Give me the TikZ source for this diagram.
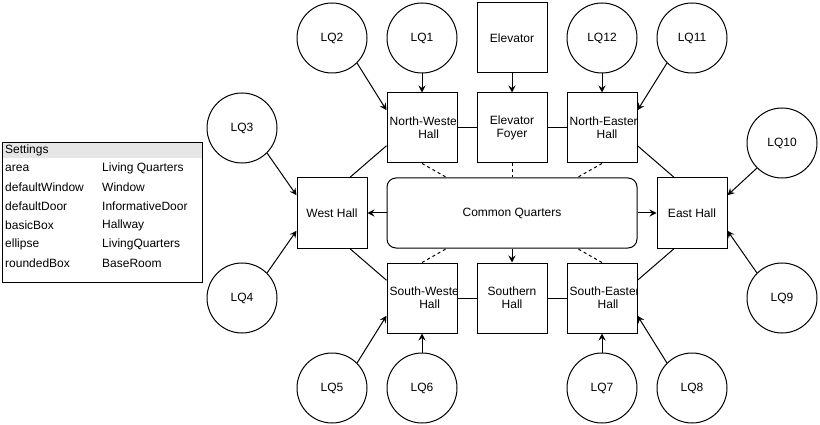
\documentclass[tikz,border=0pt]{standalone}
\usepackage{fontspec}
\setmainfont{Liberation Sans}
\usetikzlibrary{arrows.meta,calc}
\definecolor{headgray}{RGB}{230,230,230}
\begin{document}
\begin{tikzpicture}[x=1pt,y=-1pt,
  font=\fontsize{12}{12.8}\selectfont,
  lq/.style={circle,draw,line width=1pt,minimum size=70pt,inner sep=0pt},
  hall/.style={rectangle,draw,line width=1pt,minimum size=70pt,inner sep=0pt,align=center},
  conn/.style={line width=1pt},
  arr/.style={conn,-{Stealth[length=7pt,width=7pt,inset=2.5pt]}},
  dsh/.style={conn,dash pattern=on 3pt off 3pt},
  lbl/.style={inner sep=0pt,anchor=west},
  cliptext/.style={inner sep=0pt,anchor=west,align=center},
]
\useasboundingbox (0,0) rectangle (820,425);

% Settings table
\fill[headgray] (2,142) rectangle (202,158);
\node (settings) [draw,line width=1pt,minimum width=200pt,minimum height=140pt,anchor=north west,inner sep=0pt] at (2,142) {};
\node[lbl] (sh) at (5,150) {Settings};
\node[lbl] (k1) at (5,168.5) {area};          \node[lbl] (v1) at (102,168.5) {Living Quarters};
\node[lbl] (k2) at (5,187.5) {defaultWindow}; \node[lbl] (v2) at (102,187.5) {Window};
\node[lbl] (k3) at (5,206.5) {defaultDoor};   \node[lbl] (v3) at (102,206.5) {InformativeDoor};
\node[lbl] (k4) at (5,225.5) {basicBox};      \node[lbl] (v4) at (102,225.5) {Hallway};
\node[lbl] (k5) at (5,244.5) {ellipse};       \node[lbl] (v5) at (102,244.5) {LivingQuarters};
\node[lbl] (k6) at (5,263.5) {roundedBox};    \node[lbl] (v6) at (102,263.5) {BaseRoom};

% Living quarters
\node[lq] (lq1) at (422,38) {LQ1};
\node[lq] (lq2) at (332,38) {LQ2};
\node[lq] (lq3) at (242,128) {LQ3};
\node[lq] (lq4) at (242,298) {LQ4};
\node[lq] (lq5) at (332,388) {LQ5};
\node[lq] (lq6) at (422,388) {LQ6};
\node[lq] (lq7) at (602,388) {LQ7};
\node[lq] (lq8) at (692,388) {LQ8};
\node[lq] (lq9) at (782,298) {LQ9};
\node[lq] (lq10) at (782,143) {LQ10};
\node[lq] (lq11) at (692,38) {LQ11};
\node[lq] (lq12) at (602,38) {LQ12};

% Halls
\node[hall] (elev) at (512,38) {Elevator};
\node[hall] (nw) at (422,128) {};
\node[hall] (foyer) at (512,128) {Elevator\\Foyer};
\node[hall] (ne) at (602,128) {};
\node[hall] (west) at (332,213) {West Hall};
\node[hall] (east) at (692,213) {East Hall};
\node[hall] (sw) at (422,298) {};
\node[hall] (south) at (512,298) {Southern\\Hall};
\node[hall] (se) at (602,298) {};
\node (cq) [draw,line width=1pt,rounded corners=9pt,minimum width=250pt,minimum height=70pt,inner sep=0pt] at (512,213) {Common Quarters};

% clipped labels
\begin{scope}
\clip (nw.north west) rectangle ($(nw.south east)+(-1.5,0)$);
\node[cliptext] (nwt) at ($(nw.west)+(3,-0.5)$) {North-Western\\Hall};
\end{scope}
\begin{scope}
\clip (ne.north west) rectangle ($(ne.south east)+(-1.5,0)$);
\node[cliptext] (net) at ($(ne.west)+(3,-0.5)$) {North-Eastern\\Hall};
\end{scope}
\begin{scope}
\clip (sw.north west) rectangle ($(sw.south east)+(-1.5,0)$);
\node[cliptext] (swt) at ($(sw.west)+(3,-0.5)$) {South-Western\\Hall};
\end{scope}
\begin{scope}
\clip (se.north west) rectangle ($(se.south east)+(-1.5,0)$);
\node[cliptext] (set) at ($(se.west)+(3,-0.5)$) {South-Eastern\\Hall};
\end{scope}

% arrows from living quarters
\draw[arr] (lq1.south) -- (nw.north);
\draw[arr] (lq2.south east) -- ($(nw.north west)!0.25!(nw.south west)$);
\draw[arr] (elev.south) -- (foyer.north);
\draw[arr] (lq12.south) -- (ne.north);
\draw[arr] (lq11.south west) -- ($(ne.north east)!0.25!(ne.south east)$);
\draw[arr] (lq3.south east) -- ($(west.north west)!0.25!(west.south west)$);
\draw[arr] (lq4.north east) -- ($(west.north west)!0.75!(west.south west)$);
\draw[arr] (lq10.south west) -- ($(east.north east)!0.25!(east.south east)$);
\draw[arr] (lq9.north west) -- ($(east.north east)!0.75!(east.south east)$);
\draw[arr] (lq5.north east) -- ($(sw.north west)!0.75!(sw.south west)$);
\draw[arr] (lq6.north) -- (sw.south);
\draw[arr] (lq7.north) -- (se.south);
\draw[arr] (lq8.north west) -- ($(se.north east)!0.75!(se.south east)$);

% hall links
\draw[conn] (nw.east) -- (foyer.west);
\draw[conn] (foyer.east) -- (ne.west);
\draw[conn] (sw.east) -- (south.west);
\draw[conn] (south.east) -- (se.west);
\draw[conn] ($(nw.north west)!0.75!(nw.south west)$) -- ($(west.north west)!0.75!(west.north east)$);
\draw[conn] ($(ne.north east)!0.75!(ne.south east)$) -- ($(east.north west)!0.25!(east.north east)$);
\draw[conn] ($(west.south west)!0.75!(west.south east)$) -- ($(sw.north west)!0.25!(sw.south west)$);
\draw[conn] ($(east.south west)!0.25!(east.south east)$) -- ($(se.north east)!0.25!(se.south east)$);

% common quarters
\draw[arr] (cq.west) -- (west.east);
\draw[arr] (cq.east) -- (east.west);
\draw[arr] (cq.south) -- (south.north);
\draw[dsh] (nw.south) -- ($(cq.north west)!0.24!(cq.north east)$);
\draw[dsh] (foyer.south) -- (cq.north);
\draw[dsh] (ne.south) -- ($(cq.north west)!0.76!(cq.north east)$);
\draw[dsh] (sw.north) -- ($(cq.south west)!0.24!(cq.south east)$);
\draw[dsh] (se.north) -- ($(cq.south west)!0.76!(cq.south east)$);
\end{tikzpicture}
\end{document}
